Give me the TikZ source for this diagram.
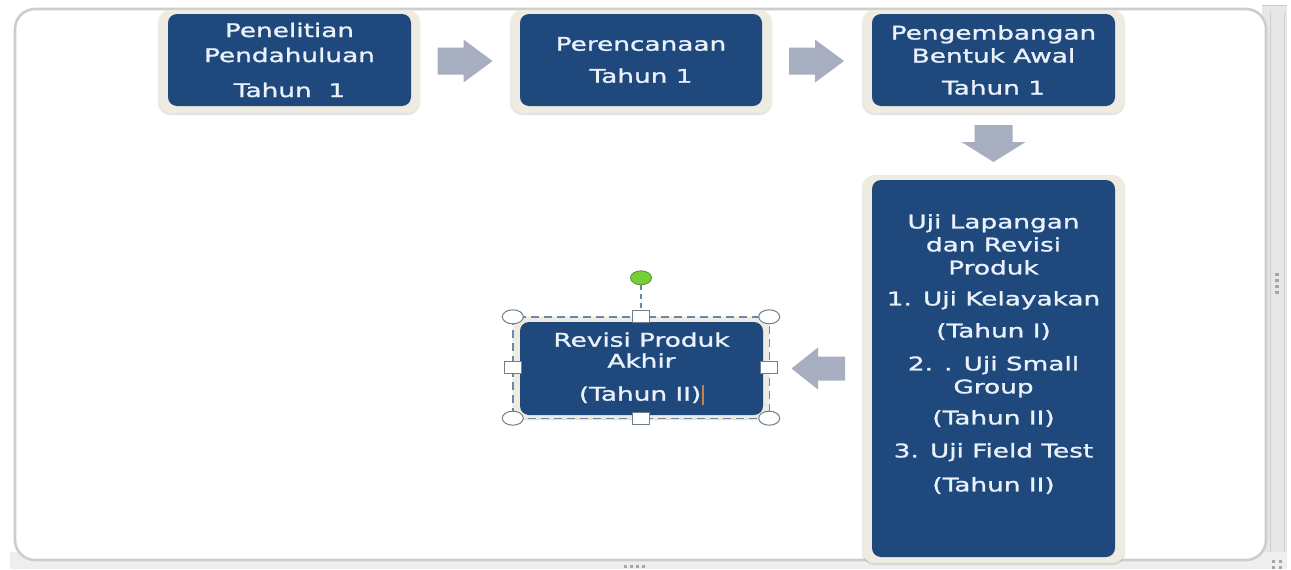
\documentclass[tikz,border=0pt]{standalone}
\usepackage{fontspec}
\newfontfamily\boxfont[FakeStretch=1.40,FakeBold=1.3]{DejaVu Sans}
\usetikzlibrary{backgrounds,shadows,calc,shapes.geometric}
\definecolor{boxblue}{HTML}{1F497D}
\definecolor{cream}{HTML}{EEECE1}
\definecolor{arrowgray}{HTML}{A7AEBF}
\definecolor{framegray}{HTML}{CDCDCD}
\definecolor{bandgray}{HTML}{E7E7E7}
\definecolor{seldash}{HTML}{6A88AC}
\definecolor{handleline}{HTML}{6F7F90}
\definecolor{rotgreen}{HTML}{74CF3A}
\definecolor{cursorc}{HTML}{C8804E}
\definecolor{boxtext}{HTML}{EAF1FA}
\begin{document}
\begin{tikzpicture}[x=1pt,y=-1pt,
  bluebox/.style={fill=boxblue, rounded corners=9pt, inner sep=0pt, text=boxtext,
    font=\fontsize{18.8}{23}\boxfont, align=center},
  boxlabel/.style={inner sep=0pt, text=boxtext, font=\fontsize{18.8}{23}\boxfont, align=center},
  creambox/.style={fill=cream, rounded corners=13pt,
    drop shadow={shadow xshift=0pt, shadow yshift=-2pt, opacity=0.22}},
  blkarrow/.style={fill=arrowgray},
  hcorner/.style={ellipse, draw=handleline, fill=white, line width=1pt, minimum width=21pt, minimum height=14pt, inner sep=0pt},
  hside/.style={rectangle, draw=handleline, fill=white, line width=1pt, minimum width=17pt, minimum height=12pt, inner sep=0pt},
  hrot/.style={ellipse, draw=rotgreen!70!black, fill=rotgreen, line width=0.8pt, minimum width=21pt, minimum height=14pt, inner sep=0pt},
  selframe/.style={draw=seldash, line width=1.4pt, dash pattern=on 8pt off 5pt},
  grip/.style={fill=black!35}
]
\useasboundingbox (0,0) rectangle (1291,570);

% boxes
\node[bluebox, minimum width=243pt, minimum height=92pt] (b1) at (289.5,60)
  {Penelitian\\[2pt]Pendahuluan\\[12pt]Tahun~~1};
\node[bluebox, minimum width=242pt, minimum height=92pt] (b2) at (641,60)
  {Perencanaan\\[9pt]Tahun 1};
\node[bluebox, minimum width=243pt, minimum height=92pt] (b3) at (993.5,60)
  {Pengembangan\\Bentuk Awal\\[9pt]Tahun 1};
\node[bluebox, minimum width=243pt, minimum height=377pt] (b4) at (993.5,368.5) {};
\node[boxlabel] (t4) at (993.5,354)
  {Uji Lapangan\\dan Revisi\\Produk\\[8pt]1. Uji Kelayakan\\[9pt](Tahun I)\\[10pt]2. . Uji Small\\Group\\[8pt](Tahun II)\\[10pt]3. Uji Field Test\\[11pt](Tahun II)};
\node[bluebox, minimum width=243pt, minimum height=93pt] (b5) at (641.5,368.5)
  {Revisi Produk\\[-2pt]Akhir\\[10pt](Tahun II)\kern1pt\textcolor{cursorc}{\rule[-4pt]{1.8pt}{20pt}}};

% block arrows
\coordinate (m12) at ($(b1.east)!0.5!(b2.west)$);
\coordinate (m23) at ($(b2.east)!0.5!(b3.west)$);
\coordinate (m34) at ($(b3.south)!0.5!(b4.north)$);
\coordinate (m54) at ($(b5.east)!0.5!(b4.west)$);
\fill[blkarrow] ($(m12)+(-28,-12.5)$) -- ++(26,0) -- ++(0,-8) -- ++(29,21.5) -- ++(-29,21.5) -- ++(0,-8) -- ++(-26,0) -- cycle;
\fill[blkarrow] ($(m23)+(-28,-12.5)$) -- ++(26,0) -- ++(0,-8) -- ++(29,21.5) -- ++(-29,21.5) -- ++(0,-8) -- ++(-26,0) -- cycle;
\fill[blkarrow] ($(m34)+(-19,-18)$) -- ++(38,0) -- ++(0,17) -- ++(13,0) -- ++(-32,20) -- ++(-32,-20) -- ++(13,0) -- cycle;
\fill[blkarrow] ($(m54)+(27.5,-12)$) -- ++(-27,0) -- ++(0,-9) -- ++(-26.5,21) -- ++(26.5,21) -- ++(0,-9) -- ++(27,0) -- cycle;

% selection handles on b5
\coordinate (snw) at ($(b5.north west)+(-7,-5)$);
\coordinate (sse) at ($(b5.south east)+(6,3)$);
\draw[selframe] (snw) rectangle (sse);
\node[hcorner] (hnw) at (snw) {};
\node[hcorner] (hse) at (sse) {};
\node[hcorner] (hne) at (snw -| sse) {};
\node[hcorner] (hsw) at (sse -| snw) {};
\node[hside] (hn) at ($(hnw)!0.5!(hne)$) {};
\node[hside] (hs) at ($(hsw)!0.5!(hse)$) {};
\node[hside] (hw) at ($(hnw)!0.5!(hsw)$) {};
\node[hside] (he) at ($(hne)!0.5!(hse)$) {};
\node[hrot] (hr) at ($(hn)+(0,-39)$) {};
\draw[selframe, line width=1.2pt, dash pattern=on 5pt off 4pt] (hr.south) -- (hn.north);

\begin{scope}[on background layer]
  % window frame
  \fill[bandgray] (1262,5) rectangle (1287,567);
  \draw[framegray, line width=1pt] (1270,12) -- (1270,560);
  \draw[framegray, line width=1pt] (1284,12) -- (1284,560);
  \fill[bandgray!70!white] (10,552) rectangle (1287,569);
  \draw[framegray, line width=1pt] (1262,5) -- (1287,5);
  \fill[white, draw=framegray, line width=2.6pt, rounded corners=20pt] (15,9) rectangle (1266,560);
  \fill[grip] (1275,273) rectangle (1279,276);
  \fill[grip] (1275,279) rectangle (1279,282);
  \fill[grip] (1275,285) rectangle (1279,288);
  \fill[grip] (1275,291) rectangle (1279,294);
  \fill[grip] (624,565) rectangle (627,568);
  \fill[grip] (630,565) rectangle (633,568);
  \fill[grip] (636,565) rectangle (639,568);
  \fill[grip] (642,565) rectangle (645,568);
  \fill[grip] (1272,560) rectangle (1275,563);
  \fill[grip] (1279,560) rectangle (1282,563);
  \fill[grip] (1272,566) rectangle (1275,569);
  \fill[grip] (1279,566) rectangle (1282,569);
  % cream borders
  \path[creambox] ($(b1.north west)+(-10,-4)$) rectangle ($(b1.south east)+(9,7)$);
  \path[creambox] ($(b2.north west)+(-10,-4)$) rectangle ($(b2.south east)+(10,7)$);
  \path[creambox] ($(b3.north west)+(-10,-4)$) rectangle ($(b3.south east)+(10,7)$);
  \path[creambox] ($(b4.north west)+(-10,-5)$) rectangle ($(b4.south east)+(10,6)$);
  \path[creambox] ($(b5.north west)+(-7,-5)$) rectangle ($(b5.south east)+(6,3)$);
\end{scope}
\end{tikzpicture}
\end{document}
